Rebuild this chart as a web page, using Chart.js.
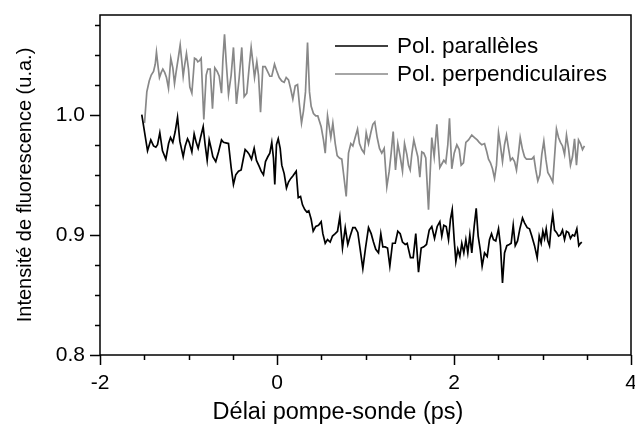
<!DOCTYPE html>
<html>
<head>
<meta charset="utf-8">
<script src="https://cdn.jsdelivr.net/npm/chart.js@4.4.1/dist/chart.umd.min.js"></script>
<style>
    html, body { margin: 0; padding: 0; background: #fff; }
    #chart { display: block; }
</style>
</head>
<body>
<canvas id="chart" width="635" height="429"></canvas>
<script>
// Delay (ps) and fluorescence values
const parDelays = [-1.528, -1.463, -1.426, -1.395, -1.369, -1.350, -1.324, -1.294, -1.256, -1.225, -1.203, -1.177, -1.150, -1.124, -1.098, -1.060, -1.037, -1.011, -0.992, -0.962, -0.936, -0.913, -0.891, -0.864, -0.834, -0.812, -0.789, -0.766, -0.744, -0.725, -0.692, -0.661, -0.627, -0.605,
    -0.548, -0.518, -0.492, -0.466, -0.435, -0.405, -0.379, -0.360, -0.333, -0.314, -0.288, -0.258, -0.232, -0.201, -0.179, -0.153, -0.130, -0.104, -0.081, -0.059, -0.040, -0.025, -0.006, 0.014, 0.036, 0.054, 0.081, 0.107, 0.130, 0.156, 0.179, 0.217, 0.240, 0.266, 0.288, 0.314, 0.337, 0.359, 0.386, 0.409, 0.438,
    0.469, 0.499, 0.518, 0.545, 0.571, 0.601, 0.627, 0.658, 0.684, 0.710, 0.740, 0.771, 0.800, 0.827, 0.857, 0.883, 0.913, 0.940, 0.970, 1.000, 1.034, 1.064, 1.090, 1.116, 1.147, 1.173, 1.196, 1.222, 1.249, 1.275, 1.305, 1.336, 1.365, 1.392, 1.418, 1.449, 1.471,
    1.508, 1.539, 1.568, 1.599, 1.629, 1.659, 1.689, 1.720, 1.749, 1.780, 1.810, 1.840, 1.862, 1.885, 1.912, 1.938, 1.960, 1.980, 2.002, 2.021, 2.043, 2.066, 2.088, 2.111, 2.134, 2.156, 2.179, 2.201, 2.228, 2.251, 2.273, 2.296, 2.318, 2.345, 2.375, 2.401, 2.424, 2.446, 2.472,
    2.503, 2.525, 2.548, 2.571, 2.597, 2.624, 2.646, 2.669, 2.692, 2.718, 2.744, 2.774, 2.797, 2.827, 2.853, 2.879, 2.910, 2.940, 2.963, 2.985, 3.004, 3.023, 3.042, 3.060, 3.079, 3.098, 3.116, 3.136, 3.158, 3.181, 3.203, 3.226, 3.249, 3.271, 3.294, 3.316, 3.339, 3.362, 3.388, 3.410, 3.429, 3.444];
const parValues = [1.000, 0.970, 0.979, 0.974, 0.973, 0.975, 0.985, 0.970, 0.963, 0.976, 0.981, 0.977, 0.986, 0.998, 0.978, 0.965, 0.974, 0.980, 0.977, 0.969, 0.984, 0.977, 0.972, 0.981, 0.990, 0.975, 0.962, 0.979, 0.972, 0.965, 0.961, 0.969, 0.979, 0.977,
    0.976, 0.956, 0.942, 0.950, 0.953, 0.954, 0.964, 0.971, 0.969, 0.967, 0.963, 0.972, 0.962, 0.957, 0.953, 0.950, 0.961, 0.965, 0.968, 0.977, 0.964, 0.942, 0.975, 0.980, 0.972, 0.958, 0.951, 0.939, 0.944, 0.947, 0.949, 0.953, 0.931, 0.932, 0.925, 0.921, 0.919, 0.920, 0.913, 0.903, 0.907,
    0.908, 0.911, 0.901, 0.893, 0.896, 0.894, 0.899, 0.901, 0.903, 0.915, 0.889, 0.906, 0.892, 0.899, 0.906, 0.906, 0.902, 0.888, 0.872, 0.889, 0.906, 0.901, 0.894, 0.888, 0.885, 0.901, 0.890, 0.890, 0.889, 0.874, 0.893, 0.893, 0.903, 0.901, 0.894, 0.892, 0.893,
    0.881, 0.881, 0.901, 0.869, 0.889, 0.890, 0.892, 0.904, 0.907, 0.897, 0.907, 0.911, 0.899, 0.908, 0.907, 0.896, 0.913, 0.921, 0.896, 0.878, 0.888, 0.882, 0.893, 0.885, 0.896, 0.885, 0.900, 0.885, 0.907, 0.922, 0.899, 0.888, 0.874, 0.885, 0.882, 0.896, 0.901, 0.896, 0.895,
    0.905, 0.891, 0.860, 0.885, 0.891, 0.892, 0.893, 0.908, 0.891, 0.895, 0.905, 0.914, 0.910, 0.906, 0.905, 0.899, 0.891, 0.881, 0.899, 0.893, 0.903, 0.897, 0.905, 0.895, 0.891, 0.907, 0.917, 0.904, 0.902, 0.899, 0.900, 0.904, 0.896, 0.903, 0.902, 0.897, 0.900, 0.899, 0.905, 0.891, 0.893, 0.894];

const perpDelays = [-1.497, -1.471, -1.444, -1.421, -1.395, -1.376, -1.362, -1.342, -1.328, -1.309, -1.290, -1.268, -1.249, -1.226, -1.200, -1.177, -1.158, -1.139, -1.116, -1.094, -1.075, -1.060, -1.042, -1.023, -1.000, -0.985, -0.962, -0.943, -0.932, -0.910, -0.895, -0.876, -0.857, -0.827, -0.800, -0.782, -0.755, -0.729, -0.703, -0.676, -0.653, -0.627, -0.612, -0.593, -0.574,
    -0.548, -0.518, -0.492, -0.458, -0.427, -0.398, -0.371, -0.341, -0.314, -0.292, -0.273, -0.254, -0.228, -0.209, -0.186, -0.160, -0.133, -0.107, -0.081, -0.059, -0.028, -0.006, 0.025, 0.054, 0.081, 0.104, 0.130, 0.153, 0.179, 0.206, 0.232, 0.254, 0.277, 0.299, 0.322, 0.345, 0.367, 0.386, 0.412, 0.438, 0.461,
    0.499, 0.525, 0.545, 0.571, 0.590, 0.608, 0.631, 0.658, 0.680, 0.706, 0.732, 0.755, 0.782, 0.808, 0.834, 0.857, 0.883, 0.910, 0.932, 0.958, 0.985, 1.008, 1.034, 1.060, 1.083, 1.105, 1.132, 1.158, 1.184, 1.211, 1.241, 1.268, 1.290, 1.313, 1.339, 1.365, 1.392, 1.418, 1.441, 1.467,
    1.486, 1.505, 1.523, 1.546, 1.568, 1.591, 1.614, 1.636, 1.659, 1.681, 1.712, 1.734, 1.749, 1.776, 1.806, 1.840, 1.862, 1.885, 1.907, 1.930, 1.949, 1.975, 2.002, 2.032, 2.059, 2.081, 2.107, 2.134, 2.164, 2.201, 2.232, 2.262, 2.285, 2.314, 2.345, 2.371, 2.390, 2.412, 2.435, 2.458, 2.480,
    2.503, 2.525, 2.548, 2.571, 2.593, 2.616, 2.638, 2.661, 2.684, 2.706, 2.729, 2.748, 2.774, 2.797, 2.819, 2.850, 2.879, 2.902, 2.924, 2.947, 2.970, 2.992, 3.015, 3.038, 3.060, 3.090, 3.116, 3.143, 3.158, 3.181, 3.203, 3.226, 3.249, 3.271, 3.294, 3.316, 3.339, 3.362, 3.384, 3.407, 3.429, 3.452, 3.474];
const perpValues = [0.993, 1.019, 1.028, 1.033, 1.036, 1.042, 1.052, 1.039, 1.031, 1.035, 1.038, 1.035, 1.031, 1.022, 1.047, 1.039, 1.026, 1.036, 1.047, 1.058, 1.044, 1.032, 1.042, 1.051, 1.038, 1.023, 1.018, 1.036, 1.047, 1.046, 1.044, 1.045, 1.047, 0.996, 1.033, 1.038, 1.038, 1.005, 1.039, 1.036, 1.032, 1.018, 1.045, 1.067, 1.044,
    1.017, 1.033, 1.056, 1.009, 1.031, 1.056, 1.015, 1.018, 1.040, 1.056, 1.044, 1.031, 1.044, 1.033, 1.002, 1.040, 1.040, 1.036, 1.032, 1.032, 1.042, 1.037, 1.031, 1.028, 1.027, 1.031, 1.029, 1.022, 1.013, 1.024, 1.025, 1.008, 0.993, 1.003, 1.019, 1.060, 1.019, 1.007, 1.001, 0.999, 0.999,
    0.990, 0.979, 0.968, 0.999, 0.990, 0.981, 0.993, 0.976, 0.966, 0.964, 0.963, 0.949, 0.932, 0.968, 0.976, 0.974, 0.981, 0.988, 0.976, 0.971, 0.968, 0.985, 0.976, 0.985, 0.992, 0.994, 0.981, 0.972, 0.968, 0.972, 0.940, 0.953, 0.968, 0.986, 0.954, 0.976, 0.965, 0.953, 0.976, 0.967,
    0.958, 0.954, 0.967, 0.979, 0.972, 0.965, 0.948, 0.969, 0.968, 0.964, 0.921, 0.957, 0.981, 0.965, 0.992, 0.956, 0.959, 0.962, 0.960, 0.975, 0.997, 0.955, 0.968, 0.975, 0.971, 0.958, 0.960, 0.977, 0.979, 0.983, 0.981, 0.979, 0.977, 0.975, 0.976, 0.969, 0.963, 0.960, 0.955, 0.947, 0.958,
    0.985, 0.974, 0.961, 0.975, 0.983, 0.972, 0.962, 0.964, 0.961, 0.954, 0.968, 0.981, 0.971, 0.965, 0.963, 0.963, 0.963, 0.965, 0.954, 0.945, 0.950, 0.967, 0.978, 0.963, 0.952, 0.948, 0.944, 0.972, 0.988, 0.981, 0.977, 0.974, 0.967, 0.983, 0.972, 0.958, 0.965, 0.980, 0.958, 0.979, 0.976, 0.971, 0.974];

const seriesNames = ['Pol. parallèles', 'Pol. perpendiculaires'];
const xTitle = 'Délai pompe-sonde (ps)';
const yTitle = 'Intensité de fluorescence (u.a.)';
const xTickLabels = [-2, 0, 2, 4];
const yTickLabels = [0.8, 0.9, 1.0];
const xMinorStep = 0.5;
const yMinorStep = 0.025;

const FONT = "'Liberation Sans', Arial, sans-serif";

// Ticks pointing outward, box around the plot, legend and x title
const frameTicks = {
    id: 'frameTicks',
    afterDraw(chart) {
        const {ctx, chartArea: a, scales: {x, y}} = chart;
        ctx.save();
        ctx.strokeStyle = '#000';
        ctx.lineWidth = 1.5;
        ctx.strokeRect(a.left, a.top, a.right - a.left, a.bottom - a.top);
        ctx.beginPath();
        for (let v = x.min; v <= x.max + 1e-9; v += xMinorStep) {
            const px = Math.round(x.getPixelForValue(v)) + 0.5;
            const major = xTickLabels.some(t => Math.abs(t - v) < 1e-6);
            ctx.moveTo(px, a.bottom);
            ctx.lineTo(px, a.bottom + (major ? 10 : 5));
        }
        for (let v = y.min; v <= y.max + 1e-9; v += yMinorStep) {
            const py = Math.round(y.getPixelForValue(v)) + 0.5;
            const major = yTickLabels.some(t => Math.abs(t - v) < 1e-6);
            ctx.moveTo(a.left, py);
            ctx.lineTo(a.left - (major ? 10 : 5), py);
        }
        ctx.stroke();

        // legend inside the plot, top right
        chart.data.datasets.forEach((ds, i) => {
            const ly = a.top + 31 + i * 28;
            ctx.strokeStyle = ds.borderColor;
            ctx.lineWidth = 1.7;
            ctx.beginPath();
            ctx.moveTo(a.left + 235, ly);
            ctx.lineTo(a.left + 288, ly);
            ctx.stroke();
            ctx.fillStyle = '#000';
            ctx.font = '22.5px ' + FONT;
            ctx.textBaseline = 'middle';
            ctx.textAlign = 'left';
            ctx.fillText(ds.label, a.left + 297, ly + 1);
        });

        // x axis title, sitting a bit left of the plot centre as in the figure
        ctx.fillStyle = '#000';
        ctx.font = '23.5px ' + FONT;
        ctx.textAlign = 'center';
        ctx.textBaseline = 'middle';
        ctx.fillText(xTitle, a.left + 238, a.bottom + 58);
        ctx.restore();
    }
};

const toPoints = (xs, ys) => xs.map((d, i) => ({x: d, y: ys[i]}));

new Chart(document.getElementById('chart'), {
    type: 'line',
    data: {
        datasets: [{
            label: seriesNames[0],
            data: toPoints(parDelays, parValues),
            borderColor: '#000000',
            borderWidth: 1.7,
            pointRadius: 0,
            tension: 0
        }, {
            label: seriesNames[1],
            data: toPoints(perpDelays, perpValues),
            borderColor: '#888888',
            borderWidth: 1.7,
            pointRadius: 0,
            tension: 0
        }]
    },
    options: {
        responsive: false,
        animation: false,
        devicePixelRatio: 1,
        layout: { padding: { top: 15, right: 4, left: 0, bottom: 0 } },
        plugins: { legend: { display: false }, tooltip: { enabled: false } },
        scales: {
            x: {
                type: 'linear',
                min: -2,
                max: 4,
                afterBuildTicks: scale => { scale.ticks = xTickLabels.map(v => ({value: v})); },
                afterFit: scale => {
                    scale.height = 74;
                    scale.paddingLeft = 0;
                    scale.paddingRight = 0;
                },
                grid: { display: false, drawTicks: false },
                border: { display: false },
                ticks: {
                    autoSkip: false,
                    maxRotation: 0,
                    padding: 16,
                    color: '#000',
                    font: { family: FONT, size: 21 },
                    callback: v => String(v)
                },
                title: { display: false }
            },
            y: {
                min: 0.8,
                max: 1.083,
                afterBuildTicks: scale => { scale.ticks = yTickLabels.map(v => ({value: v})); },
                afterFit: scale => {
                    scale.width = 100;
                    scale.paddingTop = 0;
                    scale.paddingBottom = 0;
                },
                grid: { display: false, drawTicks: false },
                border: { display: false },
                ticks: {
                    autoSkip: false,
                    padding: 15,
                    color: '#000',
                    font: { family: FONT, size: 21 },
                    callback: v => v.toFixed(1)
                },
                title: {
                    display: true,
                    text: yTitle,
                    color: '#000',
                    font: { family: FONT, size: 20 },
                    padding: { top: 13, bottom: 0 }
                }
            }
        }
    },
    plugins: [frameTicks]
});
</script>
</body>
</html>
